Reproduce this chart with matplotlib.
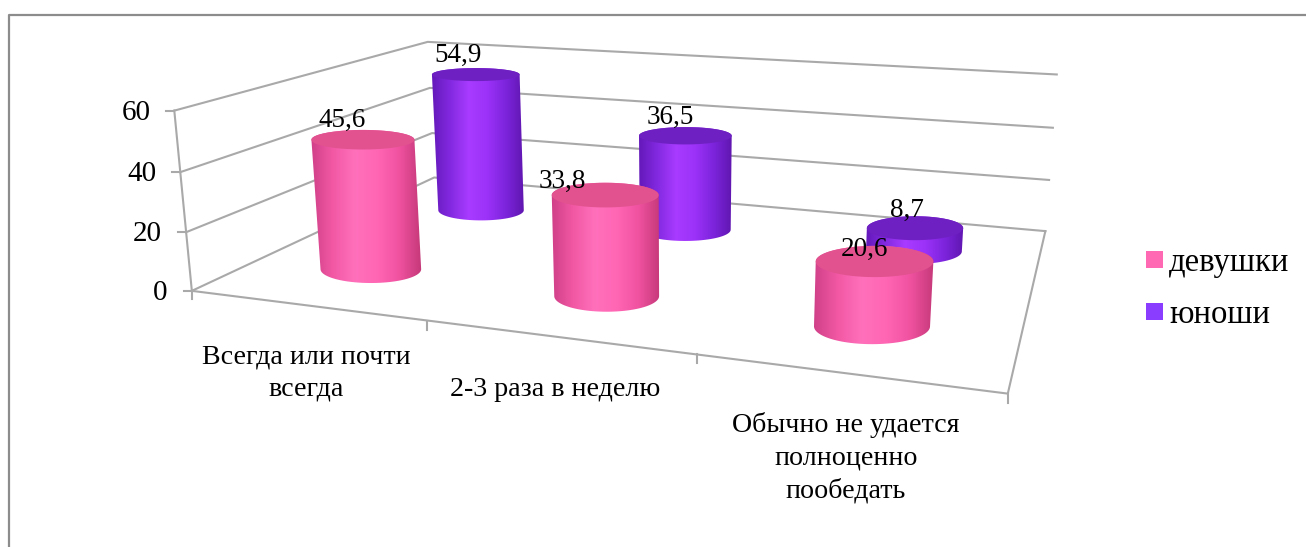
import numpy as np
import matplotlib
matplotlib.use("Agg")
import matplotlib.pyplot as plt
from matplotlib.colors import LinearSegmentedColormap
from matplotlib.patches import Polygon, Rectangle

plt.rcParams['font.family'] = ['Liberation Serif', 'DejaVu Serif']

categories = ["Всегда или почти\nвсегда", "2-3 раза в неделю", "Обычно не удается\nполноценно\nпообедать"]
series_names = ["девушки", "юноши"]
girls = [45.6, 33.8, 20.6]
boys = [54.9, 36.5, 8.7]
y_ticks = [0, 20, 40, 60]
y_max = 60

GRID = "#a9a9a9"
FRAME = "#8c8c8c"

# (u, v, h) box corners on the canvas: u along categories, v into depth, h up
box_corners = [
    ((0, 0, 0), (191, 291)), ((0, 0, 1), (175, 111)),
    ((0, 1, 0), (435, 177)), ((0, 1, 1), (427, 42)),
    ((1, 1, 0), (1045, 232)), ((1, 1, 1), (1057, 74)),
    ((1, 0, 0), (1008, 393)),
]


def fit_camera(corners):
    rows, rhs = [], []
    for (u, v, h), (x, y) in corners:
        rows.append([u, v, h, 1, 0, 0, 0, 0, -x * u, -x * v, -x * h])
        rhs.append(x)
        rows.append([0, 0, 0, 0, u, v, h, 1, -y * u, -y * v, -y * h])
        rhs.append(y)
    p = np.linalg.lstsq(np.array(rows, float), np.array(rhs, float), rcond=None)[0]
    return np.append(p, 1.0).reshape(3, 4)


CAM = fit_camera(box_corners)


def project(u, v, value):
    u, v, value = np.broadcast_arrays(u, v, value)
    pts = np.stack([u, v, np.asarray(value) / y_max, np.ones(u.shape)])
    out = CAM @ pts
    return out[0] / out[2], out[1] / out[2]


def hull(points):
    pts = sorted(set(map(tuple, points)))

    def half(seq):
        res = []
        for p in seq:
            while len(res) > 1 and ((res[-1][0] - res[-2][0]) * (p[1] - res[-2][1])
                                    - (res[-1][1] - res[-2][1]) * (p[0] - res[-2][0])) <= 0:
                res.pop()
            res.append(p)
        return res[:-1]

    return np.array(half(pts) + half(pts[::-1]))


def disc(u, v, value, ru, rv):
    # level ellipse sized from the projected radii
    t = np.linspace(0, 2 * np.pi, 120)
    cx, cy = project(u, v, value)
    x0, _ = project(u - ru, v, value)
    x1, _ = project(u + ru, v, value)
    _, y0 = project(u, v - rv, value)
    _, y1 = project(u, v + rv, value)
    return cx + (x1 - x0) / 2 * np.cos(t), cy + (y0 - y1) / 2 * np.sin(t)


def cylinder(ax, u, v, value, ru, rv, body, top, z):
    bx, by = disc(u, v, 0, ru, rv)
    tx, ty = disc(u, v, value, ru, rv)
    outline = hull(np.column_stack([np.r_[bx, tx], np.r_[by, ty]]))
    shape = Polygon(outline, closed=True, fc="none", ec="none", zorder=z)
    ax.add_patch(shape)
    # side shading runs left to right across the cylinder
    cmap = LinearSegmentedColormap.from_list("side", body)
    im = ax.imshow(np.linspace(0, 1, 200)[None, :], cmap=cmap, aspect="auto", zorder=z,
                   extent=(outline[:, 0].min() - 1, outline[:, 0].max() + 1,
                           outline[:, 1].max() + 2, outline[:, 1].min() - 2))
    im.set_clip_path(shape)
    ax.fill(tx, ty, color=top, lw=0, zorder=z + 0.1)
    return tx, ty


fig = plt.figure(figsize=(13.06, 5.47), dpi=100)
ax = fig.add_axes([0, 0, 1, 1])

# outer chart border
ax.plot([9, 9, 1306], [547, 15, 15], color=FRAME, lw=1.6, zorder=1)

# walls
for val in y_ticks:
    x, y = project([0, 0, 1], [0, 1, 1], val)
    ax.plot(x, y, color=GRID, lw=1.5, zorder=2)
    ax.plot([x[0] - 8, x[0]], [y[0], y[0]], color=GRID, lw=1.5, zorder=2)
    ax.text(x[0] - 24, y[0] + 2, str(val), fontsize=21, ha="right", va="center", color="black")

x, y = project([0, 0], [0, 0], [0, y_max])
ax.plot(x, y, color=GRID, lw=1.5, zorder=2)
ax.plot([x[0], x[0]], [y[0], y[0] + 8], color=GRID, lw=1.5, zorder=2)

# floor edges and category ticks
x, y = project([0, 1, 1], [0, 0, 1], 0)
ax.plot(x, y, color=GRID, lw=1.5, zorder=2)
for k in [1, 2, 3]:
    x, y = project(k / 3, 0, 0)
    ax.plot([x, x], [y, y + 9], color=GRID, lw=1.5, zorder=2)

centers_girls = [0.166, 0.501, 0.833]
centers_boys = [0.170, 0.501, 0.834]
ru_girls = [0.076, 0.070, 0.068]
ru_boys = [0.073, 0.070, 0.066]
pink_side = ["#cf3f88", "#f258a4", "#ff70bb", "#ff66b4", "#f052a0", "#c43878"]
purple_side = ["#6318b8", "#8229e0", "#a83bff", "#9c32f8", "#7c24dc", "#5f16ae"]
rv = 0.1
depth_girls, depth_boys = 0.24, 0.74

label_shift_boys = [(-18, -19), (-15, -18), (-8, -18)]
label_shift_girls = [(-21, -19), (-43, -14), (-11, -12)]

for u, r, val, shift in zip(centers_boys, ru_boys, boys, label_shift_boys):
    tx, ty = cylinder(ax, u, depth_boys, val, r, rv, purple_side, "#6f20c2", 3)
    ax.text(tx.mean() + shift[0], ty.mean() + shift[1], f"{val:.1f}".replace(".", ","),
            fontsize=19.5, ha="center", va="center", zorder=8)

for u, r, val, shift in zip(centers_girls, ru_girls, girls, label_shift_girls):
    tx, ty = cylinder(ax, u, depth_girls, val, r, rv, pink_side, "#e2528f", 5)
    ax.text(tx.mean() + shift[0], ty.mean() + shift[1], f"{val:.1f}".replace(".", ","),
            fontsize=19.5, ha="center", va="center", zorder=8)

# category captions
for name, cx, cy in zip(categories, [306, 555, 846], [373, 390, 458]):
    ax.text(cx, cy, name, fontsize=20.2, ha="center", va="center", linespacing=1.4)

# legend
for name, col, ly in zip(series_names, ["#ff69b4", "#8a3cff"], [259, 311]):
    ax.add_patch(Rectangle((1146, ly - 8), 17, 17, fc=col, ec="none"))
    ax.text(1169, ly + 4, name, fontsize=23.5, ha="left", va="center")

ax.set_xlim(0, 1306)
ax.set_ylim(547, 0)
ax.axis("off")
fig.savefig("out.png", dpi=100)
